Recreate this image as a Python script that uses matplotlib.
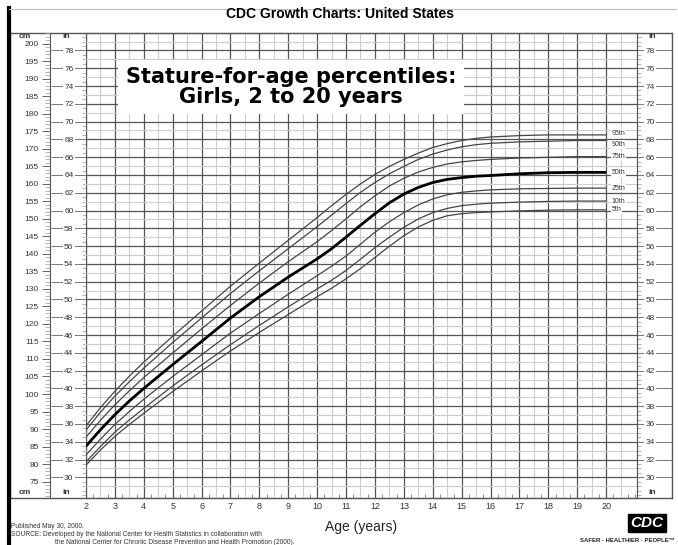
import matplotlib
matplotlib.use('Agg')
import matplotlib.pyplot as plt
import numpy as np
from matplotlib.lines import Line2D
from matplotlib.ticker import FixedLocator, NullFormatter

plt.rcParams['font.family'] = ['Liberation Sans', 'DejaVu Sans']

# CDC stature-for-age, girls 2 to 20 years (cm)
ages = [2, 2.5, 3, 3.5, 4, 5, 6, 7, 8, 9, 10, 10.5, 11, 11.5, 12, 12.5, 13, 13.5,
        14, 14.5, 15, 15.5, 16, 17, 18, 19, 20]
p5 = [79.7, 84.0, 87.9, 91.3, 94.5, 100.7, 106.6, 112.3, 117.6, 122.7, 127.8, 130.2, 132.9, 135.8,
      139.0, 142.2, 145.2, 147.7, 149.6, 150.9, 151.5, 151.8, 152.0, 152.3, 152.5, 152.6, 152.6]
p10 = [80.6, 85.0, 89.1, 92.6, 95.9, 102.3, 108.3, 114.1, 119.6, 124.9, 130.0, 132.5, 135.3, 138.5,
       141.8, 144.8, 147.6, 150.0, 151.8, 153.0, 153.8, 154.2, 154.5, 154.8, 155.0, 155.1, 155.1]
p25 = [82.6, 87.1, 91.3, 95.0, 98.5, 105.0, 111.2, 117.4, 123.0, 128.5, 133.8, 136.5, 139.4, 142.8,
       146.2, 149.2, 151.8, 154.0, 155.7, 156.9, 157.6, 158.0, 158.3, 158.6, 158.7, 158.8, 158.8]
p50 = [85.1, 89.8, 94.1, 98.0, 101.6, 108.4, 115.0, 121.7, 127.8, 133.4, 138.6, 141.5, 144.8, 148.2,
       151.5, 154.6, 157.1, 159.0, 160.4, 161.3, 161.8, 162.2, 162.4, 162.9, 163.2, 163.3, 163.3]
p75 = [87.7, 92.5, 96.9, 100.9, 104.7, 111.7, 118.6, 125.3, 131.7, 137.8, 143.5, 146.7, 150.0, 153.5,
       156.6, 159.4, 161.6, 163.4, 164.7, 165.7, 166.3, 166.7, 167.0, 167.4, 167.6, 167.8, 167.8]
p90 = [89.7, 94.8, 99.4, 103.5, 107.4, 114.7, 121.7, 128.7, 135.2, 141.5, 147.8, 151.1, 154.4, 157.6,
       160.4, 162.9, 165.0, 167.0, 168.5, 169.7, 170.6, 171.2, 171.6, 172.0, 172.2, 172.4, 172.4]
p95 = [90.9, 96.1, 100.8, 105.1, 109.1, 116.5, 123.7, 130.8, 137.4, 143.9, 150.4, 153.8, 157.0, 160.0,
       162.7, 165.0, 167.0, 168.8, 170.4, 171.5, 172.4, 173.0, 173.4, 173.8, 174.0, 174.0, 174.0]

curves = [('95th', p95), ('90th', p90), ('75th', p75), ('50th', p50),
          ('25th', p25), ('10th', p10), ('5th', p5)]
label_nudge = {'95th': 1, '90th': -3}

cm_major = np.arange(75, 201, 5)
cm_minor = np.arange(71, 204, 1)
in_major = np.arange(30, 79, 2)
in_minor = np.arange(28, 80, 0.5)
age_ticks = np.arange(2, 21, 1)


def cm2in(x):
    return x / 2.54


def in2cm(x):
    return x * 2.54


W, H = 678, 545
fig = plt.figure(figsize=(W / 100, H / 100), dpi=100)

# outer frame
frame = fig.add_axes([10 / W, 47 / H, 662 / W, 465 / H], zorder=0)
frame.set_xticks([])
frame.set_yticks([])
for s in frame.spines.values():
    s.set_color('#555555')
    s.set_linewidth(1.0)
fig.add_artist(Line2D([9 / W, 9 / W], [0, 1 - 8 / H], transform=fig.transFigure,
                      color='black', lw=3))
fig.add_artist(Line2D([9 / W, 676 / W], [1 - 9 / H, 1 - 9 / H], transform=fig.transFigure,
                      color='#bbbbbb', lw=0.8))

ax = fig.add_axes([86 / W, 47 / H, 551 / W, 465 / H], zorder=2)
ax.set_facecolor('none')
ax.set_xlim(2, 21.07)
ax.set_ylim(70.3, 203.1)

# grid: every year / half year, every 2 in / 1 in
ax.set_xticks(age_ticks)
ax.xaxis.set_minor_locator(FixedLocator(np.arange(2.5, 21.1, 1)))
ax.set_yticks(in_major * 2.54)
ax.yaxis.set_minor_locator(FixedLocator(np.arange(29, 80, 2) * 2.54))
ax.set_yticklabels([])
ax.tick_params(axis='y', which='both', length=0)
ax.tick_params(axis='x', which='both', length=0, pad=3, labelsize=6.5, labelcolor='#333333')
ax.grid(which='major', color='#555555', lw=0.9)
ax.grid(which='minor', color='#cccccc', lw=0.8)
ax.set_axisbelow(True)
ax.spines['left'].set_visible(False)
for s in ['top', 'bottom', 'right']:
    ax.spines[s].set_color('#555555')

ax.set_xlabel('Age (years)', fontsize=10, labelpad=6, color='#222222')

# quarter-year ticks along the bottom
qx = ax.secondary_xaxis('bottom')
qx.set_xticks(np.arange(2, 21.1, 0.25))
qx.xaxis.set_major_formatter(NullFormatter())
qx.tick_params(direction='in', length=3, width=0.6, color='#777777')
qx.spines['bottom'].set_visible(False)

# centimetre scale
cm_ax = ax.secondary_yaxis(-36 / 551)
cm_ax.set_yticks(cm_major)
cm_ax.yaxis.set_minor_locator(FixedLocator(cm_minor))
cm_ax.tick_params(which='major', length=6, width=0.7, pad=2, labelsize=6, labelcolor='#333333', color='#666666')
cm_ax.tick_params(which='minor', length=3.5, width=0.5, color='#999999')
cm_ax.spines['left'].set_color('#555555')

# inch scales, labels sitting on long dashes
for side, loc, pad in [('left', 0, -16.5), ('right', 1, -19.5)]:
    sec = ax.secondary_yaxis(loc, functions=(cm2in, in2cm))
    sec.set_yticks(in_major)
    sec.yaxis.set_minor_locator(FixedLocator(in_minor))
    sec.tick_params(which='major', length=25.5, width=0.7, pad=pad, labelsize=6,
                    labelcolor='#333333', color='#777777')
    sec.tick_params(which='minor', length=3, width=0.5, color='#999999')
    sec.spines[side].set_color('#555555')
    for t in sec.get_yticklabels():
        t.set_bbox(dict(facecolor='white', edgecolor='none', pad=0.8))

for name, vals in curves:
    if name == '50th':
        ax.plot(ages, vals, color='black', lw=2.0, zorder=4, solid_capstyle='butt')
    else:
        ax.plot(ages, vals, color='#444444', lw=0.9, zorder=3, solid_capstyle='butt')
    ax.annotate(name, (ages[-1], vals[-1]), xytext=(4, label_nudge.get(name, 0)),
                textcoords='offset points', fontsize=5, va='center', ha='left',
                color='#333333',
                bbox=dict(facecolor='white', edgecolor='none', pad=0.6), zorder=5)

# scale headers
for y in [1 - 37 / H, 1 - 493 / H]:
    fig.text(25 / W, y, 'cm', fontsize=6, fontweight='bold', ha='center', va='center', color='#333333')
    fig.text(66 / W, y, 'in', fontsize=6, fontweight='bold', ha='center', va='center', color='#333333')
    fig.text(652 / W, y, 'in', fontsize=6, fontweight='bold', ha='center', va='center', color='#333333')

fig.text(340 / W, 1 - 14 / H, 'CDC Growth Charts: United States', fontsize=10,
         fontweight='bold', ha='center', va='center')
fig.text(291 / W, 1 - 87 / H, 'Stature-for-age percentiles:\nGirls, 2 to 20 years',
         family='DejaVu Sans', fontsize=15, fontweight='bold', ha='center', va='center',
         linespacing=0.95, zorder=6,
         bbox=dict(boxstyle='square,pad=0.35', facecolor='white', edgecolor='none'))

fig.text(11 / W, 1 - 527 / H, 'Published May 30, 2000.', fontsize=4.8, va='center', color='#333333')
fig.text(11 / W, 1 - 535 / H, 'SOURCE: Developed by the National Center for Health Statistics in collaboration with',
         fontsize=4.8, va='center', color='#333333')
fig.text(55 / W, 1 - 542 / H, 'the National Center for Chronic Disease Prevention and Health Promotion (2000).',
         fontsize=4.8, va='center', color='#333333')

fig.text(647 / W, 1 - 523 / H, 'CDC', fontsize=11, fontweight='bold', style='italic',
         color='white', ha='center', va='center',
         bbox=dict(boxstyle='square,pad=0.15', facecolor='black', edgecolor='black'))
fig.text(675 / W, 1 - 541 / H, 'SAFER \u00b7 HEALTHIER \u00b7 PEOPLE\u2122', fontsize=4.3,
         fontweight='bold', ha='right', va='center', color='#222222')

fig.savefig('out.png', dpi=100)
